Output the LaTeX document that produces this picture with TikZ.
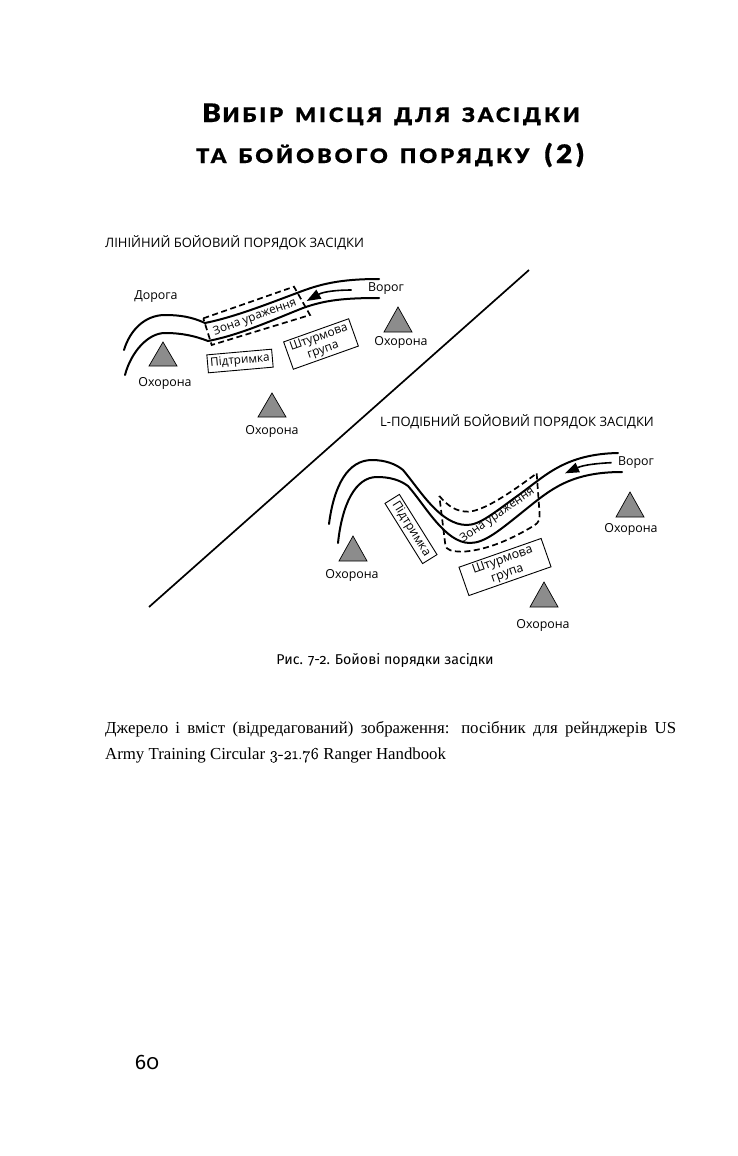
\documentclass[tikz,border=0pt]{standalone}
\usepackage{fontspec}
\setmainfont{Liberation Serif}
\newfontfamily\labelfont{Open Sans}
\newfontfamily\capfont[Numbers=OldStyle]{Fira Sans}
\newfontfamily\titlefont[LetterSpace=14.5,FakeBold=0.4,FakeStretch=1.1,WordSpace=1.5]{Lato Black}
\newfontfamily\bodyfont[Numbers=OldStyle,FakeBold=0.4]{Latin Modern Roman}
\usetikzlibrary{arrows.meta}
\tikzset{
  road/.style={line width=2pt,line cap=round},
  zone/.style={line width=1.7pt,dash pattern=on 6pt off 3.5pt},
  guard/.style={fill=black!45,draw=black,line width=0.7pt,line join=miter},
  lab/.style={font=\labelfont\fontsize{12.4}{13}\selectfont,inner sep=0pt,text=black},
  zonelab/.style={font=\labelfont\fontsize{11.8}{13}\selectfont,inner sep=0pt,text=black},
  head/.style={font=\labelfont\fontsize{13}{14}\selectfont,inner sep=0pt,anchor=west},
  unit/.style={draw=black,line width=0.9pt,align=center,inner sep=0pt},
  enemy/.style={line width=1.6pt,-{Stealth[inset=0pt,length=14pt,width=10pt]}},
  big/.style={font=\titlefont\fontsize{25.5}{30}\selectfont,inner sep=0pt,anchor=base},
  zoomA/.style={shift={(100,225)},x=0.33333pt,y=-0.33333pt},
  zoomB/.style={shift={(320,410)},x=0.33333pt,y=-0.33333pt},
}
\newcommand{\ts}[1]{{\fontsize{20}{30}\selectfont #1}}
\begin{document}
\begin{tikzpicture}[x=1pt,y=-1pt]
\useasboundingbox (0,0) rectangle (738,1156);
\fill[white] (0,0) rectangle (738,1156);
% title
\node[big] (title1) at (391,122) {В\kern1.5pt\ts{ИБІР МІСЦЯ ДЛЯ ЗАСІДКИ}};
\node[big] (title2) at (390,163) {\ts{ТА БОЙОВОГО ПОРЯДКУ} (2)};
% headings
\node[head] (h1) at (105,243) {ЛІНІЙНИЙ БОЙОВИЙ ПОРЯДОК ЗАСІДКИ};
\node[head] (h2) at (380,422) {L-ПОДІБНИЙ БОЙОВИЙ ПОРЯДОК ЗАСІДКИ};
% divider
\coordinate (d1) at (529,270);
\coordinate (d2) at (149,607);
\draw[line width=1.7pt] (d1) -- (d2);
% linear ambush
\draw[road] (124,350) .. controls (130,330) and (145,315) .. (165,315)
  .. controls (180,315) and (192,317) .. (205,323)
  .. controls (235,317) and (270,303) .. (297,293)
  .. controls (320,284) and (340,279) .. (379,279);
\draw[road] (125,375) .. controls (131,352) and (148,333) .. (165,333)
  .. controls (182,333) and (195,336) .. (208,341)
  .. controls (240,335) and (275,319) .. (303,308)
  .. controls (325,300) and (345,298) .. (379,298);
\begin{scope}[zoomA]
\draw[zone] (310,280) -- (582,185) -- (630,270) -- (335,360) -- cycle;
\draw[enemy] (755,195) .. controls (710,195) and (670,200) .. (620,228);
\end{scope}
\node[zonelab,rotate=20] (z1) at (255,317.5) {Зона ураження};
\node[unit,rotate=5,minimum width=65pt,minimum height=18pt,font=\labelfont\fontsize{11.7}{13}\selectfont] (s1) at (240,361) {Підтримка};
\node[unit,rotate=19.6,minimum width=69pt,minimum height=29pt,font=\labelfont\fontsize{11.9}{13}\selectfont] (a1) at (321,344) {Штурмова\\група};
\draw[guard] (163,342) -- (149,366) -- (177,366) -- cycle;
\draw[guard] (272,393) -- (258,417) -- (286,417) -- cycle;
\draw[guard] (398,307) -- (384,332) -- (412,332) -- cycle;
\node[lab] (g1) at (165,383) {Охорона};
\node[lab] (g2) at (272,431) {Охорона};
\node[lab] (g3) at (401,342) {Охорона};
\node[lab] (road1) at (156,297) {Дорога};
\node[lab] (en1) at (386,289) {Ворог};
% L ambush
\draw[road] (329,524) .. controls (334,485) and (348,460) .. (372,460)
  .. controls (385,460) and (396,464) .. (403,470)
  .. controls (420,490) and (440,525) .. (467,525)
  .. controls (480,525) and (495,512) .. (520,494)
  .. controls (545,476) and (565,454) .. (618,453);
\draw[road] (338,543) .. controls (342,505) and (355,477) .. (377,477)
  .. controls (390,477) and (400,480) .. (408,486)
  .. controls (425,505) and (445,543) .. (470,543)
  .. controls (485,543) and (500,530) .. (525,510)
  .. controls (550,490) and (570,472) .. (622,472);
\begin{scope}[zoomB]
\draw[zone] (358,258) .. controls (385,290) and (410,305) .. (445,305)
  .. controls (490,303) and (570,250) .. (650,190);
\draw[zone] (650,190) -- (658,300) .. controls (660,330) and (660,335) .. (640,348)
  .. controls (570,390) and (500,420) .. (430,425)
  .. controls (395,425) and (378,420) .. (376,405) -- (358,258);
\draw[enemy] (875,158) .. controls (830,160) and (790,165) .. (735,190);
\end{scope}
\node[zonelab,rotate=35] (z2) at (497.5,515.5) {Зона ураження};
\node[unit,rotate=-58,minimum width=71pt,minimum height=17pt,font=\labelfont\fontsize{12.2}{13}\selectfont] (s2) at (411,529) {Підтримка};
\node[unit,rotate=19.3,minimum width=87pt,minimum height=30pt,font=\labelfont\fontsize{12.4}{14.5}\selectfont] (a2) at (505,567) {Штурмова\\група};
\draw[guard] (353,536) -- (339,561) -- (367,561) -- cycle;
\draw[guard] (544,582) -- (530,607) -- (558,607) -- cycle;
\draw[guard] (630,492) -- (616,517) -- (644,517) -- cycle;
\node[lab] (g4) at (352,575) {Охорона};
\node[lab] (g5) at (543,625) {Охорона};
\node[lab] (g6) at (631,529) {Охорона};
\node[lab] (en2) at (636,463) {Ворог};
% caption and source
\node[font=\capfont\fontsize{14.2}{16}\selectfont,inner sep=0pt] (cap) at (385,660) {Рис. 7-2. Бойові порядки засідки};
\node[font=\fontsize{16.8}{20}\selectfont,inner sep=0pt,anchor=base west] (src1) at (105,733) {\hbox to 571pt{Джерело і вміст (відредагований) зображення: посібник для рейнджерів US}};
\node[font=\fontsize{16.8}{20}\selectfont,inner sep=0pt,anchor=base west] (src2) at (105,759) {Army Training Circular {\bodyfont 3-21.76} Ranger Handbook};
\node[font=\capfont\fontsize{21}{24}\selectfont,inner sep=0pt] (pg) at (147,1062) {60};
\end{tikzpicture}
\end{document}
